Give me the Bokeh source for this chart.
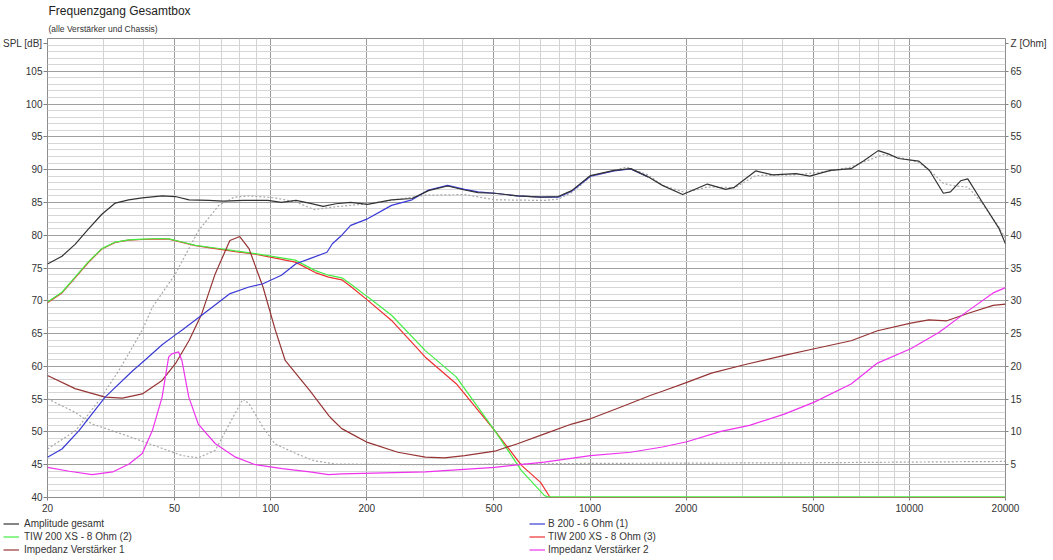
from bokeh.plotting import figure
from bokeh.layouts import column
from bokeh.models import Range1d, LinearAxis, FixedTicker, Legend, LegendItem, Title
from bokeh.embed import file_html
from bokeh.resources import INLINE

# ---------------- data ----------------
x_ticks = [20, 50, 100, 200, 500, 1000, 2000, 5000, 10000, 20000]
spl_ticks = [40, 45, 50, 55, 60, 65, 70, 75, 80, 85, 90, 95, 100, 105]
z_ticks = [5, 10, 15, 20, 25, 30, 35, 40, 45, 50, 55, 60, 65]
spl_title = "SPL [dB]"
z_title = "Z [Ohm]"
spl_title_pos = 109.22
z_title_pos = 69.22

total_f = [20, 22.2, 24.4, 26.8, 29.6, 32.6, 35.9, 39.6, 45.7, 50.3, 55.5, 64, 71, 82, 98, 108, 120, 132, 146,
           160, 178, 201, 239, 277, 312, 358, 405, 446, 503, 593, 703, 795, 876, 1003, 1190, 1340, 1520, 1685,
           1950, 2330, 2660, 2830, 3300, 3730, 4420, 4880, 5660, 6570, 7220, 7990, 8590, 9250, 10710, 11550,
           12780, 13450, 14470, 15240, 16790, 19100, 20000]
total_db = [75.6, 76.8, 78.6, 80.9, 83.2, 84.9, 85.4, 85.7, 86.0, 85.9, 85.4, 85.3, 85.2, 85.3, 85.3, 85.0, 85.3,
            84.9, 84.4, 84.8, 85.0, 84.7, 85.4, 85.6, 86.8, 87.5, 86.9, 86.5, 86.4, 86.0, 85.8, 85.9, 86.8, 89.1,
            89.9, 90.15, 88.9, 87.6, 86.2, 87.8, 87.0, 87.3, 89.8, 89.2, 89.4, 89.0, 89.9, 90.15, 91.4, 92.9, 92.4,
            91.7, 91.3, 89.9, 86.4, 86.6, 88.3, 88.6, 85.3, 81.0, 78.7]

ref_f = [20, 24.5, 29, 33.5, 39.6, 42.6, 50.3, 59.4, 68.8, 77, 85.5, 103, 120, 137, 157, 201, 305, 405, 503,
         720, 795, 876, 1003, 1190, 1300, 1520, 1685, 1990, 2330, 2660, 2830, 3300, 4420, 5660, 6570, 7220,
         8300, 9250, 10710, 11880, 12780, 13900, 15240, 16790, 19100, 20000]
ref_db = [47.4, 50.2, 54.8, 59.4, 65.5, 69.0, 74.1, 80.7, 84.55, 85.8, 86.0, 85.7, 85.06, 83.9, 84.3, 84.8,
          86.1, 86.2, 85.4, 85.3, 85.5, 86.5, 88.9, 89.9, 90.4, 89.2, 87.6, 86.5, 87.35, 87.3, 87.2, 89.1,
          89.2, 89.8, 90.4, 91.2, 92.3, 91.9, 91.1, 89.4, 87.9, 87.5, 87.35, 85.1, 81.2, 79.5]

b200_f = [20, 22.2, 25.1, 30.3, 36.9, 40.5, 45.7, 50.3, 52.7, 60.8, 74.6, 85.5, 94.6, 108, 120, 132, 150, 156,
          167, 178, 201, 239, 277, 312, 358, 405, 446, 503, 593, 703, 795, 876, 1003, 1190, 1340, 1520]
b200_db = [46.15, 47.4, 50.2, 55.3, 59.3, 61.0, 63.3, 64.8, 65.5, 67.8, 71.1, 72.1, 72.6, 73.9, 75.65, 76.4,
           77.4, 78.7, 80.0, 81.5, 82.5, 84.55, 85.4, 86.9, 87.6, 87.0, 86.6, 86.4, 86.0, 85.8, 85.8, 86.7,
           89.0, 89.8, 90.1, 88.9]

tiw2_f = [20, 22.2, 24.4, 26.8, 29.6, 32.6, 35.9, 39.6, 45, 48, 52.8, 58.1, 67.1, 77.6, 89.5, 103.4, 119.4,
          137.9, 151.8, 167, 181, 201, 239, 305, 381, 503, 610, 720, 735, 20000]
tiw2_db = [69.8, 71.3, 73.6, 75.9, 77.95, 78.96, 79.3, 79.4, 79.5, 79.45, 78.96, 78.45, 78.05, 77.6, 77.2,
           76.7, 76.2, 74.6, 73.9, 73.5, 72.3, 70.6, 67.8, 62.4, 58.4, 50.2, 44.1, 40.3, 40.1, 40.1]

tiw3_f = [20, 22.2, 24.4, 26.8, 29.6, 32.6, 35.9, 39.6, 45, 48, 52.8, 58.1, 67.1, 77.6, 89.5, 103.4, 119.4,
          137.9, 151.8, 167, 181, 201, 239, 305, 381, 503, 610, 700, 750, 20000]
tiw3_db = [69.7, 71.2, 73.5, 75.8, 77.9, 78.9, 79.25, 79.35, 79.45, 79.4, 78.9, 78.4, 77.95, 77.5, 77.1,
           76.5, 75.9, 74.3, 73.6, 73.2, 71.9, 70.1, 67.0, 61.4, 57.35, 50.2, 44.9, 42.3, 40.0, 40.0]

imp1_f = [20, 24.4, 30.3, 34.3, 39.6, 45.7, 50.3, 55.5, 60.8, 67, 74.5, 80, 85.5, 94.6, 103, 111, 132.6, 152,
          156, 167, 179, 201, 250, 305, 350, 405, 503, 593, 720, 876, 1003, 1280, 1550, 1685, 2010, 2400, 3041,
          4058, 5036, 6570, 7945, 10100, 11500, 13100, 15300, 18300, 20000]
imp1_ohm = [18.6, 16.6, 15.3, 15.15, 15.8, 17.85, 20.4, 23.95, 28.0, 34.1, 39.2, 39.8, 37.95, 32.1, 25.8,
            20.9, 16.3, 12.5, 11.9, 10.5, 9.7, 8.4, 6.9, 6.15, 6.05, 6.4, 7.06, 8.2, 9.7, 11.2, 12.0, 14.0,
            15.6, 16.2, 17.55, 18.97, 20.24, 21.67, 22.68, 23.9, 25.43, 26.6, 27.1, 26.95, 28.1, 29.3, 29.5]

imp2_f = [20, 23.4, 27.6, 32.0, 36.0, 39.6, 42.6, 45.7, 47.9, 49.0, 51.5, 52.7, 55.4, 59.3, 67.1, 77.6, 89.5,
          108.6, 132.6, 151.8, 167, 305, 503, 720, 1003, 1340, 1685, 2010, 2570, 3160, 4058, 5036, 6570, 7945,
          10100, 12400, 15300, 18300, 20000]
imp2_ohm = [4.6, 4.0, 3.5, 3.9, 5.1, 6.7, 10.2, 15.3, 21.4, 21.9, 22.2, 20.9, 15.3, 11.2, 8.2, 6.15, 5.0,
            4.4, 3.9, 3.5, 3.6, 3.9, 4.6, 5.4, 6.4, 6.9, 7.7, 8.5, 10.08, 11.0, 12.72, 14.55, 17.3, 20.5,
            22.68, 25.2, 28.5, 31.2, 32.0]

refz_f = [20, 24.4, 27.6, 35.1, 44.5, 52.7, 59.3, 67.1, 74.2, 81.8, 85.6, 94.6, 103, 120, 137, 160, 300,
          1000, 5000, 20000]
refz_ohm = [15.06, 13.0, 11.2, 9.5, 7.7, 6.4, 6.05, 7.2, 11.2, 15.0, 14.3, 10.7, 8.2, 6.7, 5.6, 5.1, 5.0,
            5.2, 5.3, 5.5]

legend_left = ["Amplitude gesamt", "TIW 200 XS - 8 Ohm (2)", "Impedanz Verstärker 1"]
legend_right = ["B 200 - 6 Ohm (1)", "TIW 200 XS - 8 Ohm (3)", "Impedanz Verstärker 2"]

# ---------------- styles ----------------
FONT = "Liberation Sans"
TXT = "#333333"
C_TOTAL = "#333333"
C_B200 = "#3a3ad6"
C_TIW2 = "#44ee44"
C_TIW3 = "#ee3030"
C_IMP1 = "#963434"
C_IMP2 = "#ee33ee"
C_REF = "#a8a8a8"

# ---------------- main figure ----------------
p = figure(width=1053, height=516, x_axis_type="log", title=None,
           x_range=Range1d(20, 20000), y_range=Range1d(40, 110),
           output_backend="svg", toolbar_location=None, frame_align=False,
           min_border_left=45, min_border_right=48, min_border_top=38, min_border_bottom=19)
p.extra_y_ranges = {"z": Range1d(0, 70)}
p.outline_line_color = "#8c8c8c"
p.background_fill_color = "white"
p.border_fill_color = "white"

minor_x = []
for dec in [10, 100, 1000, 10000]:
    for m in range(1, 10):
        v = m * dec
        if 20 <= v <= 20000:
            minor_x.append(v)
xticker = FixedTicker(ticks=x_ticks, minor_ticks=minor_x)
xa = p.xaxis[0]
xa.ticker = xticker
xa.major_label_overrides = {t: str(t) for t in x_ticks}
xa.axis_line_color = None
xa.major_tick_out = 3
xa.major_tick_in = 0
xa.minor_tick_line_color = None
xa.major_tick_line_color = "#808080"
xa.major_label_standoff = 2
xa.major_label_text_font = FONT
xa.major_label_text_font_size = "10px"
xa.major_label_text_color = TXT

ya = p.yaxis[0]
ya.ticker = FixedTicker(ticks=spl_ticks + [spl_title_pos])
ya.major_label_overrides = {spl_title_pos: spl_title}
ya.axis_line_color = None
ya.major_tick_out = 4
ya.major_tick_in = 0
ya.minor_tick_line_color = None
ya.major_tick_line_color = "#808080"
ya.major_label_standoff = 1
ya.major_label_text_font = FONT
ya.major_label_text_font_size = "10px"
ya.major_label_text_color = TXT

za = LinearAxis(y_range_name="z", ticker=FixedTicker(ticks=z_ticks + [z_title_pos]))
za.major_label_overrides = {z_title_pos: z_title}
za.axis_line_color = None
za.major_tick_out = 3
za.major_tick_in = 0
za.minor_tick_line_color = None
za.major_tick_line_color = "#808080"
za.major_label_standoff = 2
za.major_label_text_font = FONT
za.major_label_text_font_size = "10px"
za.major_label_text_color = TXT
p.add_layout(za, "right")

p.xgrid.ticker = xticker
p.xgrid.grid_line_color = "#9a9a9a"
p.xgrid.minor_grid_line_color = "#d2d2d2"
p.ygrid.ticker = FixedTicker(ticks=list(range(40, 111, 5)), minor_ticks=list(range(40, 111, 1)))
p.ygrid.grid_line_color = "#a0a0a0"
p.ygrid.minor_grid_line_color = "#d6d6d6"

p.line(ref_f, ref_db, line_color=C_REF, line_width=1.2, line_dash="2 2")
p.line(refz_f, refz_ohm, y_range_name="z", line_color=C_REF, line_width=1.2, line_dash="2 2")
p.line(tiw3_f, tiw3_db, line_color=C_TIW3, line_width=1.2)
p.line(tiw2_f, tiw2_db, line_color=C_TIW2, line_width=1.2)
p.line(imp1_f, imp1_ohm, y_range_name="z", line_color=C_IMP1, line_width=1.2)
p.line(imp2_f, imp2_ohm, y_range_name="z", line_color=C_IMP2, line_width=1.2)
p.line(b200_f, b200_db, line_color=C_B200, line_width=1.2)
p.line(total_f, total_db, line_color=C_TOTAL, line_width=1.2)

p.add_layout(Title(text="(alle Verstärker und Chassis)", align="left", offset=1, standoff=10,
                   text_font=FONT, text_font_size="8.5px", text_font_style="normal", text_color=TXT), "above")
p.add_layout(Title(text="Frequenzgang Gesamtbox", align="left", offset=1, standoff=-2,
                   text_font=FONT, text_font_size="12px", text_font_style="normal", text_color="#222222"), "above")

# ---------------- legend strip ----------------
lg = figure(width=1053, height=44, x_range=Range1d(0, 1), y_range=Range1d(0, 1),
            output_backend="svg", toolbar_location=None, title=None, frame_align=False,
            x_axis_location=None, y_axis_location=None,
            min_border_left=0, min_border_right=0, min_border_top=0, min_border_bottom=0)
lg.grid.visible = False
lg.outline_line_color = None
lg.background_fill_color = "white"
lg.border_fill_color = "white"

left_colors = [C_TOTAL, C_TIW2, C_IMP1]
right_colors = [C_B200, C_TIW3, C_IMP2]
# legend-only renderers: a single point outside the strip's visible range
left_items = [LegendItem(label=t, renderers=[lg.line([5], [5], line_color=c, line_width=1.2)])
              for t, c in zip(legend_left, left_colors)]
right_items = [LegendItem(label=t, renderers=[lg.line([5], [5], line_color=c, line_width=1.2)])
               for t, c in zip(legend_right, right_colors)]

def make_legend(items, loc, standoff):
    return Legend(items=items, location=loc, orientation="vertical",
                  glyph_width=16, glyph_height=13, label_height=13, label_standoff=standoff,
                  spacing=0, padding=0, margin=0, border_line_color=None, background_fill_alpha=0,
                  label_text_font=FONT, label_text_font_size="10px", label_text_color=TXT)

lg.add_layout(make_legend(left_items, (3, 4), 5), "center")
lg.add_layout(make_legend(right_items, (529, 4), 3), "center")

layout = column(p, lg, spacing=0)
open("out.html", "w").write(file_html(layout, INLINE))
